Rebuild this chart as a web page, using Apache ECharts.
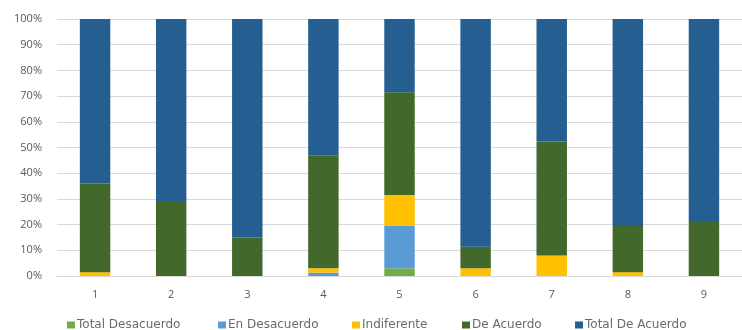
<!DOCTYPE html>
<html>
<head>
<meta charset="utf-8">
<script src="https://cdn.jsdelivr.net/npm/echarts@6/dist/echarts.min.js"></script>
<style>
html,body{margin:0;padding:0;background:#fff;}
#chart{width:742px;height:330px;}
</style>
</head>
<body>
<div id="chart"></div>
<script>
// Survey answers per question, stacked to 100%
const categories = ['1','2','3','4','5','6','7','8','9'];
const totalDesacuerdo = [0, 0, 0, 0, 3, 0, 0, 0, 0];
const enDesacuerdo    = [0, 0, 0, 1.3, 16.5, 0, 0, 0, 0];
const indiferente     = [1.5, 0, 0, 1.7, 12, 3, 8, 1.5, 0];
const deAcuerdo       = [34.5, 29.2, 15, 44, 40, 8.4, 44.3, 18, 21];
const totalDeAcuerdo  = [64, 70.8, 85, 53, 28.5, 88.6, 47.7, 80.5, 79];
const yTicks = ['0%','10%','20%','30%','40%','50%','60%','70%','80%','90%','100%'];

const seriesDefs = [
  { name: 'Total Desacuerdo', data: totalDesacuerdo, color: '#70AD47' },
  { name: 'En Desacuerdo',    data: enDesacuerdo,    color: '#5B9BD5' },
  { name: 'Indiferente',      data: indiferente,     color: '#FFC000' },
  { name: 'De Acuerdo',       data: deAcuerdo,       color: '#43682B' },
  { name: 'Total De Acuerdo', data: totalDeAcuerdo,  color: '#255E91' }
];
const legendLeft = [67, 218, 352, 462, 575];

const textStyle = { color: '#595959', fontSize: 11, fontFamily: 'Open Sans, DejaVu Sans, sans-serif' };

const chart = echarts.init(document.getElementById('chart'));
chart.setOption({
  animation: false,
  grid: { left: 57, right: -5, top: 19, bottom: 54 },
  legend: seriesDefs.map((s, i) => ({
    data: [s.name],
    left: legendLeft[i],
    top: 319,
    itemWidth: 8,
    itemHeight: 7,
    itemGap: 0,
    icon: 'rect',
    padding: 0,
    textStyle: { color: '#6a6a6a', fontSize: 12, fontFamily: 'DejaVu Sans, sans-serif', padding: [0, 0, 0, -3] }
  })),
  xAxis: {
    type: 'category',
    data: categories,
    axisLine: { lineStyle: { color: '#d9d9d9' } },
    axisTick: { show: false },
    axisLabel: Object.assign({}, textStyle, { margin: 13 })
  },
  yAxis: {
    type: 'value',
    min: 0,
    max: 100,
    interval: 10,
    axisLine: { show: false },
    axisTick: { show: false },
    splitLine: { lineStyle: { color: '#d9d9d9' } },
    axisLabel: Object.assign({}, textStyle, {
      margin: 15,
      formatter: v => yTicks[Math.round(v / 10)]
    })
  },
  series: seriesDefs.map(s => ({
    name: s.name,
    type: 'bar',
    stack: 'total',
    barWidth: '40%',
    data: s.data,
    itemStyle: { color: s.color }
  }))
});
</script>
</body>
</html>
